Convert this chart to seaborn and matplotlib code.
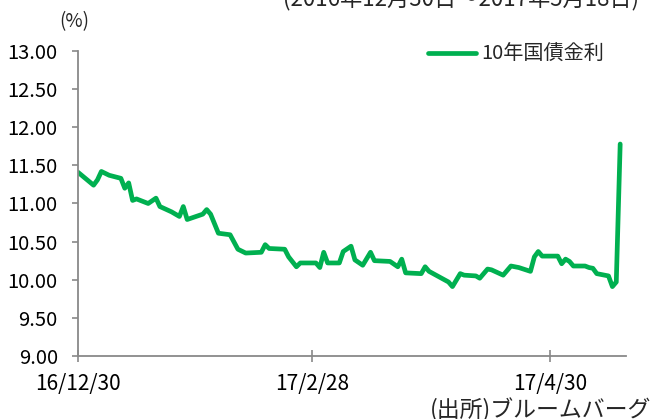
import pandas as pd
import matplotlib.pyplot as plt
import seaborn as sns

# 10-year government bond yield
dates = ['2016-12-30', '2017-01-03', '2017-01-04', '2017-01-05', '2017-01-07',
         '2017-01-10', '2017-01-11', '2017-01-12', '2017-01-13', '2017-01-14',
         '2017-01-17', '2017-01-19', '2017-01-20', '2017-01-23', '2017-01-25',
         '2017-01-26', '2017-01-27', '2017-01-31', '2017-02-01', '2017-02-02',
         '2017-02-04', '2017-02-07', '2017-02-09', '2017-02-11', '2017-02-15',
         '2017-02-16', '2017-02-17', '2017-02-21', '2017-02-22', '2017-02-24',
         '2017-02-25', '2017-03-01', '2017-03-02', '2017-03-03', '2017-03-04',
         '2017-03-07', '2017-03-08', '2017-03-10', '2017-03-11', '2017-03-13',
         '2017-03-15', '2017-03-16', '2017-03-20', '2017-03-22', '2017-03-23',
         '2017-03-24', '2017-03-28', '2017-03-29', '2017-03-30', '2017-04-04',
         '2017-04-05', '2017-04-07', '2017-04-08', '2017-04-11', '2017-04-12',
         '2017-04-14', '2017-04-15', '2017-04-18', '2017-04-20', '2017-04-22',
         '2017-04-25', '2017-04-26', '2017-04-27', '2017-04-28', '2017-05-02',
         '2017-05-03', '2017-05-04', '2017-05-05', '2017-05-06', '2017-05-09',
         '2017-05-10', '2017-05-11', '2017-05-12', '2017-05-15', '2017-05-16',
         '2017-05-17', '2017-05-18']
yields = [11.41, 11.24, 11.31, 11.42, 11.37,
          11.33, 11.20, 11.27, 11.04, 11.06,
          11.00, 11.07, 10.96, 10.89, 10.83,
          10.96, 10.79, 10.86, 10.92, 10.86,
          10.61, 10.59, 10.40, 10.35, 10.36,
          10.46, 10.41, 10.40, 10.30, 10.17,
          10.22, 10.22, 10.16, 10.36, 10.22,
          10.22, 10.37, 10.44, 10.26, 10.19,
          10.36, 10.25, 10.24, 10.17, 10.27,
          10.09, 10.08, 10.17, 10.11, 9.97,
          9.91, 10.08, 10.06, 10.05, 10.02,
          10.14, 10.13, 10.06, 10.18, 10.16,
          10.11, 10.30, 10.37, 10.31, 10.31,
          10.21, 10.27, 10.24, 10.18, 10.18,
          10.16, 10.15, 10.08, 10.05, 9.91,
          9.97, 11.78]

x_ticks = ['2016-12-30', '2017-02-28', '2017-04-30']
x_tick_labels = ['16/12/30', '17/2/28', '17/4/30']
y_ticks = [9.0, 9.5, 10.0, 10.5, 11.0, 11.5, 12.0, 12.5, 13.0]

df = pd.DataFrame({'date': pd.to_datetime(dates), 'yield': yields})

sns.set_style('white')
plt.rcParams['font.family'] = ['Noto Sans CJK JP', 'DejaVu Sans']

fig = plt.figure(figsize=(6.53, 4.19), dpi=100)
ax = fig.add_axes([0.1194, 0.1504, 0.8393, 0.7279])

green = '#00B050'
sns.lineplot(data=df, x='date', y='yield', ax=ax, color=green, linewidth=3.4,
             label='10年国債金利')

ax.set_xlim(pd.Timestamp('2016-12-30'), pd.Timestamp('2016-12-30') + pd.Timedelta(days=140.5))
ax.set_ylim(9.0, 13.0)
ax.set_xticks(pd.to_datetime(x_ticks))
ax.set_xticklabels(x_tick_labels)
ax.set_yticks(y_ticks)
ax.set_yticklabels([f'{v:.2f}' for v in y_ticks])
ax.set_xlabel('')
ax.set_ylabel('')

for side in ['top', 'right']:
    ax.spines[side].set_visible(False)
for side in ['left', 'bottom']:
    ax.spines[side].set_color('#898989')
    ax.spines[side].set_linewidth(1.3)

ax.tick_params(axis='y', direction='out', length=4.5, width=1.2, color='#898989',
               pad=10, labelsize=14.5, labelcolor='black', left=True)
ax.tick_params(axis='x', direction='inout', length=9, width=1.2, color='#898989',
               pad=8, labelsize=15, labelcolor='black', bottom=True)

ax.legend(loc='center left', bbox_to_anchor=(0.655, 0.871),
          bbox_transform=fig.transFigure, frameon=False, fontsize=14.5,
          handlelength=2.4, handletextpad=0.25, borderpad=0, borderaxespad=0)

# source note and date range (the reference has both partly cut by the frame)
fig.text(0.113, 0.948, '(%)', fontsize=13.5, ha='center', va='center')
fig.text(0.433, 1.004, '(2016年12月30日～2017年5月18日)', fontsize=16,
         ha='left', va='center')
fig.text(0.997, 0.022, '(出所)ブルームバーグ', fontsize=16.5, ha='right', va='center')

fig.savefig('out.png', dpi=100)
